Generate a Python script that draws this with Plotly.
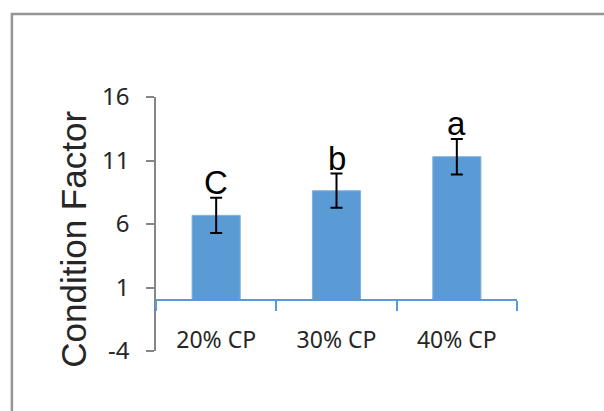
import plotly.graph_objects as go

# Condition factor by dietary crude-protein level
categories = ["20% CP", "30% CP", "40% CP"]
condition_factor = [6.68, 8.62, 11.3]
std_error = [1.38, 1.35, 1.4]
group_letters = ["C", "b", "a"]

y_ticks = [-4, 1, 6, 11, 16]

W, H = 604, 411
L, R, T, B = 155.5, 86.5, 97, 60
plot_w = W - L - R
plot_h = H - T - B

bar_color = "#5B9BD5"

fig = go.Figure()
fig.add_trace(go.Bar(
    x=categories,
    y=condition_factor,
    width=0.4,
    marker=dict(color=bar_color, line=dict(color="#7fb2e0", width=1)),
    error_y=dict(type="data", array=std_error, visible=True,
                 color="black", thickness=2, width=6),
    showlegend=False,
    hoverinfo="skip",
))

# significance letters above each error bar
for cat, val, err, letter in zip(categories, condition_factor, std_error, group_letters):
    fig.add_annotation(
        x=cat, y=val + err, text=letter, showarrow=False,
        xanchor="center", yanchor="bottom", yshift=-5,
        font=dict(family="Liberation Sans, Arial", size=33, color="black"),
    )

# y-axis title
fig.add_annotation(
    xref="paper", yref="paper",
    x=(72 - L) / plot_w, y=(H - B - 239) / plot_h,
    text="Condition Factor", textangle=-90, showarrow=False,
    xanchor="center", yanchor="middle",
    font=dict(family="Liberation Sans, Arial", size=35, color="#262626"),
)

# outer frame
fig.add_shape(
    type="rect", xref="paper", yref="paper",
    x0=(11 - L) / plot_w, x1=(W + 10 - L) / plot_w,
    y0=(H - B - (H + 10)) / plot_h, y1=(H - B - 14) / plot_h,
    line=dict(color="#969696", width=2.5), fillcolor="rgba(0,0,0,0)",
    layer="below",
)

y_min, y_max = -4, 16
zero_pos = (0 - y_min) / (y_max - y_min)

fig.update_layout(
    width=W, height=H,
    margin=dict(l=L, r=R, t=T, b=B, pad=0),
    paper_bgcolor="white", plot_bgcolor="white",
    bargap=0.6,
    xaxis=dict(
        type="category", range=[-0.5, 2.5],
        anchor="free", position=zero_pos,
        showline=True, linecolor=bar_color, linewidth=1.5,
        ticks="outside", tickson="boundaries", ticklen=10,
        tickcolor=bar_color, tickwidth=1.5,
        showgrid=False, zeroline=False,
        ticklabelstandoff=19,
        tickfont=dict(family="Noto Sans", size=23, color="#262626"),
    ),
    yaxis=dict(
        range=[y_min, y_max], tickvals=y_ticks,
        ticktext=[str(v) for v in y_ticks],
        showline=True, linecolor="#868686", linewidth=1.5,
        ticks="outside", ticklen=8, tickcolor="#868686", tickwidth=1.5,
        showgrid=False, zeroline=False,
        ticklabelstandoff=12,
        tickfont=dict(family="Noto Sans", size=24, color="#262626"),
    ),
)

fig.write_html("out.html")
